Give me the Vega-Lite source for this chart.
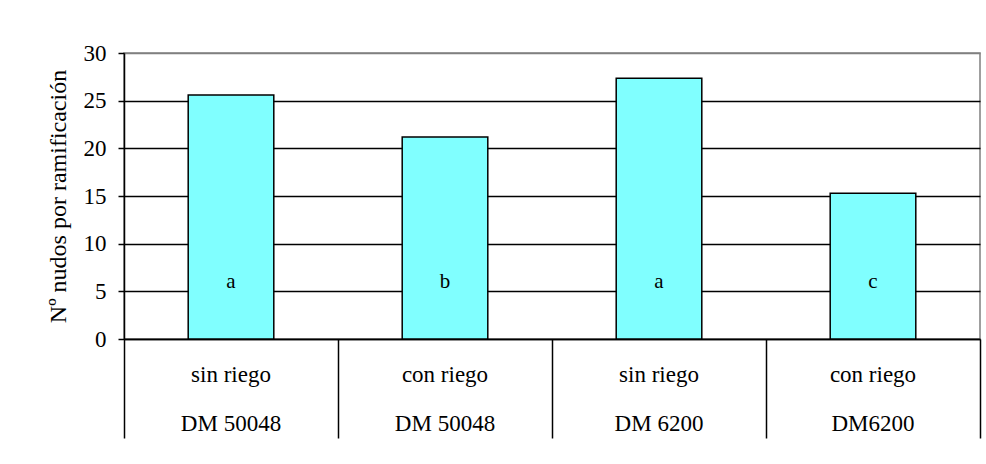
{
  "$schema": "https://vega.github.io/schema/vega-lite/v6.json",
  "width": 856,
  "height": 286,
  "autosize": {"type": "none"},
  "padding": {"left": 124, "top": 53, "right": 6, "bottom": 125},
  "background": "white",
  "config": {
    "font": "Liberation Serif",
    "view": {"stroke": "#808080", "strokeWidth": 1.5}
  },
  "data": {
    "values": [
      {"grupo": "sin riego|DM 50048", "valor": 25.6, "letra": "a"},
      {"grupo": "con riego|DM 50048", "valor": 21.2, "letra": "b"},
      {"grupo": "sin riego|DM 6200", "valor": 27.35, "letra": "a"},
      {"grupo": "con riego|DM6200", "valor": 15.3, "letra": "c"}
    ]
  },
  "encoding": {
    "x": {
      "field": "grupo",
      "type": "nominal",
      "sort": null,
      "scale": {"paddingInner": 0, "paddingOuter": 0},
      "axis": {
        "title": null,
        "bandPosition": 1,
        "tickExtra": true,
        "tickSize": 99,
        "tickColor": "black",
        "tickWidth": 1.5,
        "domainColor": "black",
        "domainWidth": 1.5,
        "labelExpr": "datum.value ? split(datum.value, '|') : ''",
        "labelFont": "Liberation Serif",
        "labelFontSize": 23,
        "labelColor": "black",
        "labelPadding": -75,
        "labelLineHeight": 49,
        "labelBaseline": "top",
        "labelAngle": 0
      }
    }
  },
  "layer": [
    {
      "mark": {"type": "bar", "width": {"band": 0.4}, "fill": "#80FFFF", "stroke": "black", "strokeWidth": 1.5},
      "encoding": {
        "y": {
          "field": "valor",
          "type": "quantitative",
          "scale": {"domain": [0, 30], "nice": false, "zero": true},
          "axis": {
            "title": "Nº nudos por ramificación",
            "values": [0, 5, 10, 15, 20, 25, 30],
            "grid": true,
            "gridColor": {"condition": {"test": "datum.value === 30", "value": "#808080"}, "value": "black"},
            "gridWidth": 1.5,
            "domainColor": "black",
            "domainWidth": 1.5,
            "tickColor": "black",
            "tickSize": 6,
            "tickWidth": 1.5,
            "labelFont": "Liberation Serif",
            "labelFontSize": 23,
            "labelColor": "black",
            "labelPadding": 12,
            "titleFont": "Liberation Serif",
            "titleFontSize": 24,
            "titleFontWeight": "normal",
            "titleColor": "black",
            "titlePadding": 13
          }
        }
      }
    },
    {
      "mark": {"type": "text", "fontSize": 21, "baseline": "middle", "color": "black", "font": "Liberation Serif"},
      "encoding": {
        "y": {"datum": 6},
        "text": {"field": "letra"}
      }
    }
  ]
}
